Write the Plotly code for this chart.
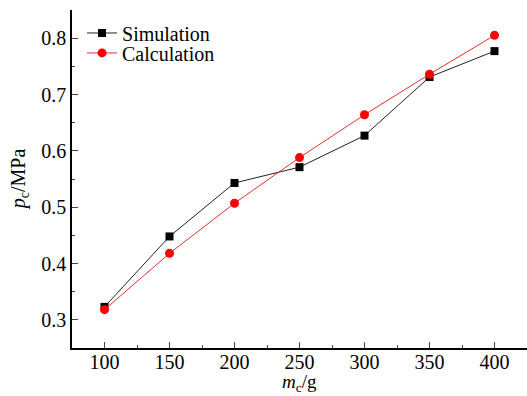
import plotly.graph_objects as go

mass = [100, 150, 200, 250, 300, 350, 400]
simulation = [0.323, 0.448, 0.543, 0.571, 0.627, 0.731, 0.777]
calculation = [0.318, 0.418, 0.507, 0.588, 0.664, 0.736, 0.805]
x_ticks = [100, 150, 200, 250, 300, 350, 400]
y_ticks = [0.3, 0.4, 0.5, 0.6, 0.7, 0.8]

FONT = "Liberation Serif, Times New Roman, serif"
FS = 20

fig = go.Figure()
fig.add_trace(go.Scatter(
    x=mass, y=simulation, name="Simulation", mode="lines+markers",
    line=dict(color="#222222", width=1),
    marker=dict(symbol="square", size=8, color="black"),
    legend="legend",
))
fig.add_trace(go.Scatter(
    x=mass, y=calculation, name="Calculation", mode="lines+markers",
    line=dict(color="#e03030", width=1),
    marker=dict(symbol="circle", size=9, color="red"),
    legend="legend2",
))

leg_common = dict(xanchor="left", yanchor="middle", bgcolor="rgba(0,0,0,0)",
                  font=dict(size=FS, family=FONT), itemwidth=30)

fig.update_layout(
    width=527, height=396,
    margin=dict(l=72, r=0, t=10, b=48),
    plot_bgcolor="white", paper_bgcolor="white",
    font=dict(family=FONT, size=FS, color="black"),
    showlegend=True,
    legend=dict(x=0.022, y=0.932, **leg_common),
    legend2=dict(x=0.022, y=0.873, **leg_common),
    xaxis=dict(
        range=[75, 425], tickvals=x_ticks, ticks="inside", ticklen=6,
        tickwidth=1, showline=True, linecolor="black", linewidth=1.5,
        showgrid=False, zeroline=False, mirror=False,
        minor=dict(ticks="inside", ticklen=3, dtick=25, tick0=75, showgrid=False),
        tickfont=dict(size=FS), automargin=False, ticklabelstandoff=-5,
    ),
    yaxis=dict(
        range=[0.25, 0.85], tickvals=y_ticks, tickformat=".1f", ticks="inside", ticklen=6,
        tickwidth=1, showline=True, linecolor="black", linewidth=1.5,
        showgrid=False, zeroline=False, mirror=False,
        minor=dict(ticks="inside", ticklen=3, dtick=0.05, tick0=0.25, showgrid=False),
        tickfont=dict(size=FS), automargin=False,
    ),
    annotations=[
        dict(text="<i>m</i><sub>c</sub>/g", xref="paper", yref="paper",
             x=0.5, y=-0.104, xanchor="center", yanchor="middle",
             showarrow=False, font=dict(size=19, family=FONT)),
        dict(text="<i>p</i><sub>c</sub>/MPa", xref="paper", yref="paper",
             x=-0.116, y=0.5, xanchor="center", yanchor="middle", textangle=-90,
             showarrow=False, font=dict(size=FS, family=FONT)),
    ],
)

fig.write_html("out.html")
